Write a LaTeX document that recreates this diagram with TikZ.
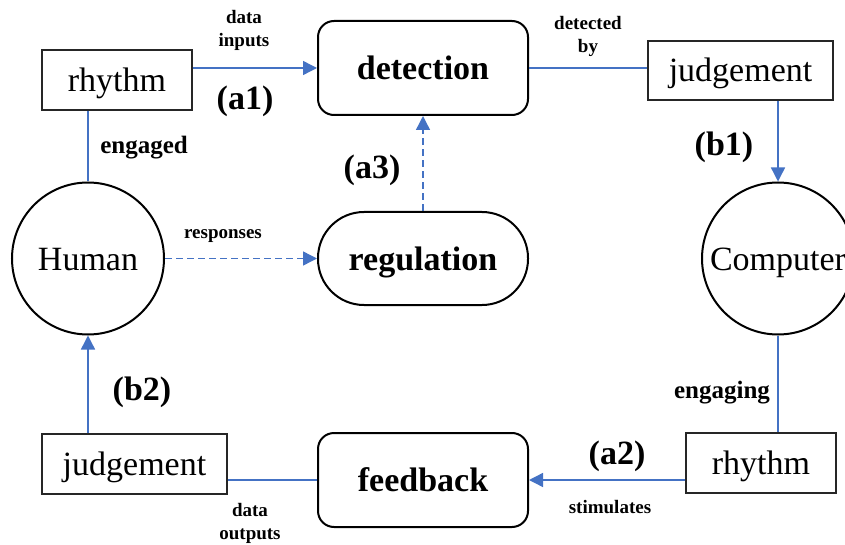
\documentclass[tikz,border=0pt]{standalone}
\usepackage{fontspec}
\setmainfont{Liberation Serif}
\usetikzlibrary{arrows.meta}
\definecolor{linkblue}{HTML}{4472C4}
\tikzset{
  big/.style={font=\fontsize{34}{40}\selectfont, text height=23pt, text depth=0pt, inner sep=0pt},
  bigbold/.style={big, font=\fontsize{34}{40}\selectfont\bfseries},
  plainbox/.style={big, draw=black!85, line width=1.4pt, rectangle, minimum height=60pt},
  roundbox/.style={bigbold, draw=black, line width=2pt, rounded corners=16pt, minimum width=210pt, minimum height=94pt},
  pillbox/.style={bigbold, draw=black, line width=2pt, rounded corners=46pt, minimum width=210pt, minimum height=93pt},
  agent/.style={big, draw=black, line width=2pt, circle, minimum size=152pt},
  tag/.style={font=\fontsize{34}{40}\selectfont\bfseries, inner sep=0pt},
  verb/.style={font=\fontsize{25}{30}\selectfont\bfseries, inner sep=0pt},
  note/.style={font=\fontsize{19}{23}\selectfont\bfseries, inner sep=0pt, align=center},
  link/.style={draw=linkblue, line width=1.4pt},
  flow/.style={link, -{Triangle[length=14pt,width=14pt]}},
  dflow/.style={flow, dash pattern=on 7pt off 4pt},
}
\begin{document}
\begin{tikzpicture}[x=1pt,y=-1pt]
  \useasboundingbox (0,0) rectangle (845,545);
  \clip (0,0) rectangle (845,545);

  % main blocks
  \node[plainbox, minimum width=150pt] (rhythmA) at (117,80) {rhythm};
  \node[roundbox] (detect) at (423,68) {detection};
  \node[plainbox, minimum width=185pt, minimum height=59pt] (judgeA) at (740.5,70.5) {judgement};
  \node[agent] (human) at (88,258.5) {Human};
  \node[pillbox] (regul) at (423,258.5) {regulation};
  \node[agent] (computer) at (778,258.5) {Computer};
  \node[plainbox, minimum width=150pt] (rhythmB) at (761,463) {rhythm};
  \node[roundbox] (feedback) at (423,480) {feedback};
  \node[plainbox, minimum width=185pt] (judgeB) at (134.5,464) {judgement};

  % connectors
  \draw[flow] (rhythmA.east |- detect.west) -- (detect.west);
  \draw[link] (detect.east) -- (judgeA.west |- detect.east);
  \draw[flow] (computer.north |- judgeA.south) -- (computer.north);
  \draw[link] (computer.south) -- (computer.south |- rhythmB.north);
  \draw[flow] (rhythmB.west |- feedback.east) -- (feedback.east);
  \draw[link] (judgeB.east |- feedback.west) -- (feedback.west);
  \draw[flow] (human.south |- judgeB.north) -- (human.south);
  \draw[link] (human.north |- rhythmA.south) -- (human.north);
  \draw[dflow] (human.east) -- (regul.west);
  \draw[dflow] (regul.north) -- (detect.south);

  % connector labels
  \node[note] (lInputs) at (244,30) {data\\inputs};
  \node[tag] (lA1) at (245,101) {(a1)};
  \node[note] (lDetBy) at (588,36) {detected\\by};
  \node[tag] (lB1) at (724,147) {(b1)};
  \node[verb] (lEngaged) at (144,148) {engaged};
  \node[tag] (lA3) at (372,170) {(a3)};
  \node[note] (lResp) at (223,236) {responses};
  \node[tag] (lB2) at (142,392) {(b2)};
  \node[note] (lOutputs) at (250,523) {data\\outputs};
  \node[verb] (lEngaging) at (722,393) {engaging};
  \node[tag] (lA2) at (617,456) {(a2)};
  \node[note] (lStim) at (610,507) {stimulates};
\end{tikzpicture}
\end{document}
